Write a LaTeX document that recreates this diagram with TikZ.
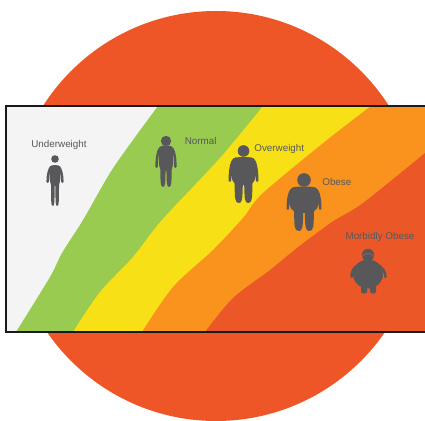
\documentclass[tikz,border=0pt]{standalone}
\usepackage{fontspec}
\setmainfont{Liberation Sans}
\definecolor{discred}{RGB}{238,85,39}
\definecolor{bandwhite}{RGB}{244,244,245}
\definecolor{bandgreen}{RGB}{152,203,80}
\definecolor{bandyellow}{RGB}{247,225,22}
\definecolor{bandorange}{RGB}{249,147,29}
\definecolor{bandred}{RGB}{236,87,39}
\definecolor{figgray}{RGB}{88,88,90}
\tikzset{
  label/.style={font=\fontsize{5.6pt}{6.5pt}\selectfont,text=figgray,inner sep=0pt},
  figfill/.style={fill=figgray,draw=none},
  figarm/.style={draw=figgray,line width=1.4pt,line cap=round}
}
% centre x, head y, head radius, body top, arm reach, arm end, belly, leg reach, feet
\newcommand{\personfig}[9]{%
  \fill[figfill] (#1,#2) circle (#3);
  \fill[figfill] ({#1-#7*0.65},#4) .. controls ({#1-#7*0.3},{#4-0.6}) and ({#1+#7*0.3},{#4-0.6}) .. ({#1+#7*0.65},#4)
    .. controls ({#1+#7*1.05},{#4+1.5}) and ({#1+#7},{#4+(#6-#4)*0.35}) .. ({#1+#7},{#4+(#6-#4)*0.6})
    .. controls ({#1+#7},{#6}) and ({#1+#8},{#6}) .. ({#1+#8},{#6+2})
    .. controls ({#1+#8},{#9-6}) and ({#1+#8},{#9}) .. ({#1+#8*0.55},#9)
    .. controls ({#1+#8*0.15},#9) and ({#1+#8*0.12},{#9-3}) .. ({#1+#8*0.08},{#6+3}) -- ({#1-#8*0.08},{#6+3})
    .. controls ({#1-#8*0.12},{#9-3}) and ({#1-#8*0.15},#9) .. ({#1-#8*0.55},#9)
    .. controls ({#1-#8},#9) and ({#1-#8},{#9-6}) .. ({#1-#8},{#6+2})
    .. controls ({#1-#8},{#6}) and ({#1-#7},{#6}) .. ({#1-#7},{#4+(#6-#4)*0.6})
    .. controls ({#1-#7},{#4+(#6-#4)*0.35}) and ({#1-#7*1.05},{#4+1.5}) .. ({#1-#7*0.65},#4) -- cycle;
  \draw[figarm] ({#1-#7*0.7},{#4+1.4})
    .. controls ({#1-#5+3},{#4+3}) and ({#1-#5+1.2},{#4+(#6-#4)*0.5}) .. ({#1-#5+1.3},{#6-1.2});
  \draw[figarm] ({#1+#7*0.7},{#4+1.4})
    .. controls ({#1+#5-3},{#4+3}) and ({#1+#5-1.2},{#4+(#6-#4)*0.5}) .. ({#1+#5-1.3},{#6-1.2});
}
\begin{document}
\begin{tikzpicture}[x=0.02cm,y=-0.02cm]
  \useasboundingbox (0,0) rectangle (425,421);
  \fill[white] (0,0) rectangle (425,421);

  % Disc behind the chart
  \fill[discred] (216,216) circle (205);

  % Bands, back to front
  \fill[bandwhite] (6,106) rectangle (425,332);
  \fill[bandgreen] plot[smooth,tension=0.5] coordinates {(16,332) (50,277) (62,253) (83,220) (110,173) (133,140) (158,106)}
    -- (425,106) -- (425,332) -- cycle;
  \fill[bandyellow] plot[smooth,tension=0.5] coordinates {(73,332) (100,292) (133,257) (162,220) (220,158) (263,106)}
    -- (425,106) -- (425,332) -- cycle;
  \fill[bandorange] plot[smooth,tension=0.5] coordinates {(142,332) (173,287) (213,250) (243,218) (263,193) (327,140) (371,106)}
    -- (425,106) -- (425,332) -- cycle;
  \fill[bandred] plot[smooth,tension=0.5] coordinates {(205,332) (233,298) (270,270) (297,248) (332,222) (363,203) (425,153)}
    -- (425,332) -- cycle;

  % Frame
  \draw[black!90,line width=1.15pt] (426,106) -- (6,106) -- (6,332) -- (426,332);

  % Figures
  \personfig{55}{159}{3.8}{165.5}{8.6}{183}{5.4}{4}{206}
  \personfig{166}{141}{5.2}{146}{10.7}{168}{7.2}{5.6}{187}
  \personfig{243.5}{151}{5.8}{157.5}{15}{182}{12.5}{8.8}{203}
  \personfig{304}{180}{6.8}{187}{17.5}{210}{15}{9.8}{231}

  % Last figure has its own shape
  \fill[figfill] (368,255) circle (6.2);
  \draw[discred,line width=0.25pt] (362.5,257) arc (200:340:5.8);
  \fill[figfill] (368,274) ellipse (15 and 14.5);
  \fill[figfill,rounded corners=1.2] (361,285) rectangle (367,293.5);
  \fill[figfill,rounded corners=1.2] (370,285) rectangle (376,293.5);
  \draw[figarm] (358,265) .. controls (353,268) and (351.5,272) .. (351.5,277);
  \draw[figarm] (378,265) .. controls (383,268) and (385.5,272) .. (385.5,277);

  % Labels
  \node[label] (underweight) at (59,144.5) {Underweight};
  \node[label,anchor=west] (normal) at (184.5,140.5) {Normal};
  \node[label,anchor=west] (overweight) at (254,148.5) {Overweight};
  \node[label,anchor=west] (obese) at (322,181.5) {Obese};
  \node[label] (morbid) at (380,236.5) {Morbidly Obese};
\end{tikzpicture}
\end{document}
